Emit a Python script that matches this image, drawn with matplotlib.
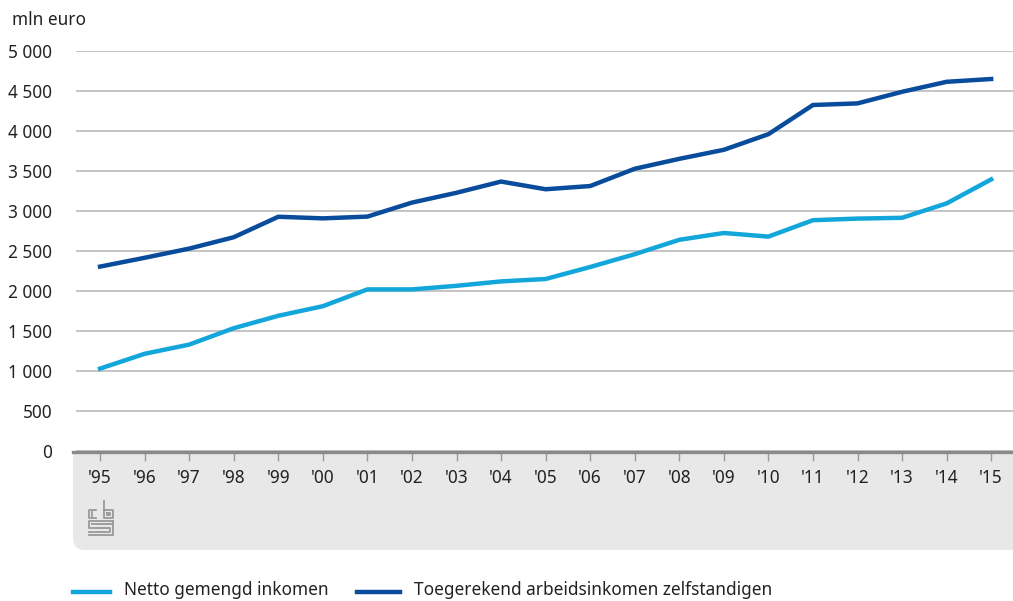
import matplotlib.pyplot as plt
import numpy as np
from matplotlib.patches import FancyBboxPatch, Rectangle
from matplotlib.lines import Line2D

# jaren en waarden (mln euro)
years = ["'95", "'96", "'97", "'98", "'99", "'00", "'01", "'02", "'03", "'04", "'05",
         "'06", "'07", "'08", "'09", "'10", "'11", "'12", "'13", "'14", "'15"]
netto_gemengd = [1030, 1215, 1330, 1535, 1690, 1810, 2020, 2020, 2065, 2120, 2150,
                 2300, 2460, 2640, 2725, 2680, 2885, 2905, 2915, 3095, 3395]
toegerekend = [2305, 2415, 2530, 2672, 2928, 2908, 2930, 3105, 3228, 3368, 3272,
               3312, 3528, 3652, 3765, 3960, 4325, 4345, 4490, 4615, 4650]
labels = ["Netto gemengd inkomen", "Toegerekend arbeidsinkomen zelfstandigen"]

light = "#12a6da"
dark = "#0a4c9c"
W, H = 1013, 601
fs = 12.4

plt.rcParams["font.family"] = ["Noto Sans", "DejaVu Sans"]
fig = plt.figure(figsize=(W / 100, H / 100), dpi=100)

def fx(px):
    return px / W

def fy(py):
    return (H - py) / H

ax = fig.add_axes([fx(76), fy(451), fx(1013) - fx(76), fy(51) - fy(451)])
x = np.arange(len(years))

# grijze band onder de x-as (alleen linksonder afgerond)
fig.patches.append(Rectangle((fx(73), fy(530)), fx(1100) - fx(73), fy(452) - fy(530),
                             transform=fig.transFigure, facecolor="#e8e8e8",
                             edgecolor="none", zorder=-5))
fig.patches.append(FancyBboxPatch((fx(73), fy(550)), fx(1200) - fx(73), fy(480) - fy(550),
                                  boxstyle="round,pad=0,rounding_size=0.012",
                                  transform=fig.transFigure, facecolor="#e8e8e8",
                                  edgecolor="none", zorder=-5, mutation_aspect=W / H))
fig.add_artist(Line2D([fx(73), fx(1013)], [fy(452), fy(452)], transform=fig.transFigure,
                      color="#8a8a8a", lw=2.4, zorder=4))

ax.plot(x, netto_gemengd, color=light, lw=3.2, solid_joinstyle="miter", zorder=3)
ax.plot(x, toegerekend, color=dark, lw=3.2, solid_joinstyle="miter", zorder=3)

ax.set_xlim(-0.54, 20.49)
ax.set_ylim(0, 5000)
ax.set_yticks(np.arange(0, 5001, 500))
ax.set_yticklabels([f"{v:,}".replace(",", " ") for v in range(0, 5001, 500)])
ax.set_xticks(x)
ax.set_xticklabels(years)
ax.grid(axis="y", color="#b4b4b4", lw=1.1)
ax.set_axisbelow(True)
for s in ["top", "right", "left", "bottom"]:
    ax.spines[s].set_visible(False)
ax.tick_params(axis="y", length=0, pad=17, labelsize=fs, labelcolor="#222222")
ax.tick_params(axis="x", length=7, width=1, color="#999999", pad=6,
               labelsize=fs, labelcolor="#222222")

fig.text(fx(12), fy(20), "mln euro", fontsize=fs, color="#222222", va="center")

# cbs-logo (vereenvoudigd)
logo = [
    [(96, 510), (89, 510), (89, 518), (96, 518)],
    [(92, 512), (92, 516)],
    [(104, 501), (104, 510), (113, 510), (113, 518), (104, 518), (104, 510)],
    [(107, 513), (110, 513), (110, 515), (107, 515), (107, 513)],
    [(113, 521), (89, 521), (89, 528), (110, 528), (110, 532), (89, 532)],
    [(113, 521), (113, 535), (89, 535)],
    [(92, 524), (113, 524)],
]
for pts in logo:
    xs = [fx(p[0]) for p in pts]
    ys = [fy(p[1]) for p in pts]
    fig.add_artist(Line2D(xs, ys, transform=fig.transFigure, color="#999999", lw=1.3))

# legenda
for x0, x1, tx, col, lab in [(73, 110, 124, light, labels[0]), (357, 400, 414, dark, labels[1])]:
    fig.add_artist(Line2D([fx(x0), fx(x1)], [fy(592), fy(592)], transform=fig.transFigure,
                          color=col, lw=3.2))
    fig.text(fx(tx), fy(590), lab, fontsize=fs, color="#222222", va="center")

fig.savefig("out.png", dpi=100)
